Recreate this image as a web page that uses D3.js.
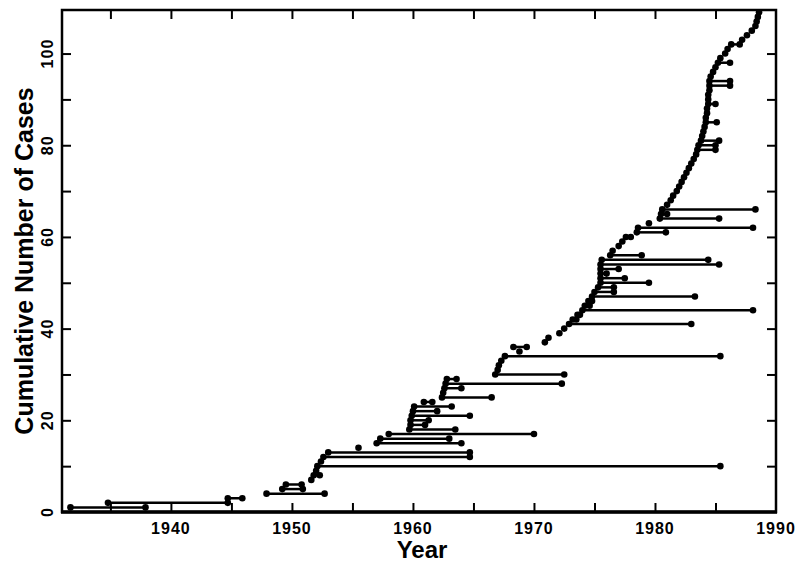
<!DOCTYPE html>
<html><head><meta charset="utf-8">
<script src="https://cdn.jsdelivr.net/npm/d3@7"></script>
<style>body{margin:0;background:#fff}svg{display:block}</style></head>
<body><svg id="chart" width="798" height="566"></svg>
<script>
// Case start (first point) and end (second point) year, in case order 1..N
const startYear = [1931.7,1934.8,1944.7,1947.9,1949.2,1949.5,1951.6,1951.8,1952.0,1952.1,
1952.4,1952.6,1953.0,1955.5,1957.0,1957.3,1958.0,1959.7,1959.8,1959.8,
1959.9,1960.0,1960.1,1960.9,1962.4,1962.5,1962.6,1962.7,1962.8,1966.8,
1967.0,1967.1,1967.3,1967.6,1968.8,1968.3,1970.9,1971.2,1972.1,1972.5,
1972.9,1973.2,1973.6,1974.0,1974.2,1974.5,1974.8,1975.0,1975.3,1975.5,
1975.5,1975.5,1975.5,1975.5,1975.6,1976.3,1976.5,1977.0,1977.3,1977.6,
1978.5,1978.6,1979.5,1980.4,1980.5,1980.6,1981.0,1981.3,1981.5,1981.8,
1982.0,1982.2,1982.4,1982.6,1982.8,1983.0,1983.2,1983.4,1983.5,1983.6,
1983.8,1983.9,1984.0,1984.1,1984.2,1984.2,1984.3,1984.3,1984.4,1984.4,
1984.4,1984.5,1984.5,1984.5,1984.6,1984.8,1985.0,1985.2,1985.4,1985.8,
1986.0,1986.3,1987.2,1987.6,1988.0,1988.3,1988.4,1988.5,1988.6];
const endYear = [1937.9,1944.7,1945.9,1952.7,1950.9,1950.8,1951.6,1952.3,1952.0,1985.4,
1952.4,1964.7,1964.7,1955.5,1964.0,1963.0,1970.0,1963.5,1961.0,1961.3,
1964.7,1962.0,1963.2,1961.6,1966.5,1962.5,1964.0,1972.3,1963.6,1972.5,
1967.0,1967.1,1967.3,1985.4,1968.8,1969.4,1970.9,1971.2,1972.1,1972.5,
1983.0,1973.5,1973.8,1988.1,1974.6,1974.8,1983.3,1976.6,1976.6,1979.5,
1977.5,1976.0,1977.0,1985.3,1984.4,1978.9,1976.5,1977.0,1977.3,1978.0,
1980.9,1988.1,1979.5,1985.3,1981.0,1988.3,1981.0,1981.3,1981.5,1981.8,
1982.0,1982.2,1982.4,1982.6,1982.8,1983.0,1983.2,1983.4,1985.0,1985.0,
1985.3,1983.9,1984.0,1984.1,1985.1,1984.2,1984.3,1984.3,1985.0,1984.4,
1984.4,1984.5,1986.2,1986.2,1984.6,1984.8,1985.0,1986.2,1985.4,1985.8,
1986.0,1987.0,1987.2,1987.6,1988.0,1988.3,1988.4,1988.5,1988.6];
const xTickLabels = [1940,1950,1960,1970,1980,1990];
const xMinorTicks = [1935,1940,1945,1950,1955,1960,1965,1970,1975,1980,1985];
const yTickLabels = [0,20,40,60,80,100];
const yMinorTicks = [10,20,30,40,50,60,70,80,90,100];

const cases = startYear.map((s,i)=>({n:i+1,s:s,e:endYear[i]}));
const svg = d3.select("#chart");
const L=62,R=776,T=10,B=512;
const x = d3.scaleLinear().domain([1931,1990]).range([L,R]);
const y = d3.scaleLinear().domain([0,109.5]).range([B,T]);

// frame
svg.append("rect").attr("x",L).attr("y",T).attr("width",R-L).attr("height",B-T)
  .attr("fill","none").attr("stroke","#000").attr("stroke-width",2.5);
svg.append("line").attr("x1",L-1).attr("x2",R+1).attr("y1",B).attr("y2",B).attr("stroke","#000").attr("stroke-width",3.5);

// inward ticks
const bottomAxis = d3.axisBottom(x).tickValues(xMinorTicks).tickSize(-9).tickFormat("");
const topAxis = d3.axisTop(x).tickValues(xMinorTicks).tickSize(-9).tickFormat("");
const leftAxis = d3.axisLeft(y).tickValues(yMinorTicks).tickSize(-9).tickFormat("");
const rightAxis = d3.axisRight(y).tickValues(yMinorTicks).tickSize(-9).tickFormat("");
[[bottomAxis,`translate(0,${B})`],[topAxis,`translate(0,${T})`],[leftAxis,`translate(${L},0)`],[rightAxis,`translate(${R},0)`]]
 .forEach(([ax,tr])=>{
   const g=svg.append("g").attr("transform",tr).call(ax);
   g.select(".domain").remove();
   g.selectAll("line").attr("stroke","#000").attr("stroke-width",2);
 });

// tick labels
svg.append("g").selectAll("text").data(xTickLabels).join("text")
  .attr("x",d=>x(d)).attr("y",534).attr("text-anchor","middle")
  .attr("font-family","Liberation Sans, Arial, sans-serif").attr("font-weight","bold")
  .attr("font-size",16).attr("letter-spacing",1).text(d=>d);
svg.append("g").selectAll("text").data(yTickLabels).join("text")
  .attr("transform",d=>`translate(53,${y(d)}) rotate(-90)`).attr("text-anchor","middle")
  .attr("font-family","Liberation Sans, Arial, sans-serif").attr("font-weight","bold")
  .attr("font-size",16).attr("letter-spacing",1).text(d=>d);

// axis titles
svg.append("text").attr("x",(L+R)/2+3).attr("y",558).attr("text-anchor","middle")
  .attr("font-family","Liberation Sans, Arial, sans-serif").attr("font-weight","bold")
  .attr("font-size",24).text("Year");
svg.append("text").attr("transform",`translate(33,${(T+B)/2}) rotate(-90)`).attr("text-anchor","middle")
  .attr("font-family","Liberation Sans, Arial, sans-serif").attr("font-weight","bold")
  .attr("font-size",25).text("Cumulative Number of Cases");

// data
const g = svg.append("g");
g.selectAll("line.seg").data(cases.filter(d=>d.e!==d.s)).join("line").attr("class","seg")
  .attr("x1",d=>x(d.s)).attr("x2",d=>x(d.e)).attr("y1",d=>y(d.n)).attr("y2",d=>y(d.n))
  .attr("stroke","#000").attr("stroke-width",2.5);
g.selectAll("circle.s").data(cases).join("circle").attr("class","s")
  .attr("cx",d=>x(d.s)).attr("cy",d=>y(d.n)).attr("r",3.3).attr("fill","#000");
g.selectAll("circle.e").data(cases.filter(d=>d.e!==d.s)).join("circle").attr("class","e")
  .attr("cx",d=>x(d.e)).attr("cy",d=>y(d.n)).attr("r",3.3).attr("fill","#000");
</script></body></html>
